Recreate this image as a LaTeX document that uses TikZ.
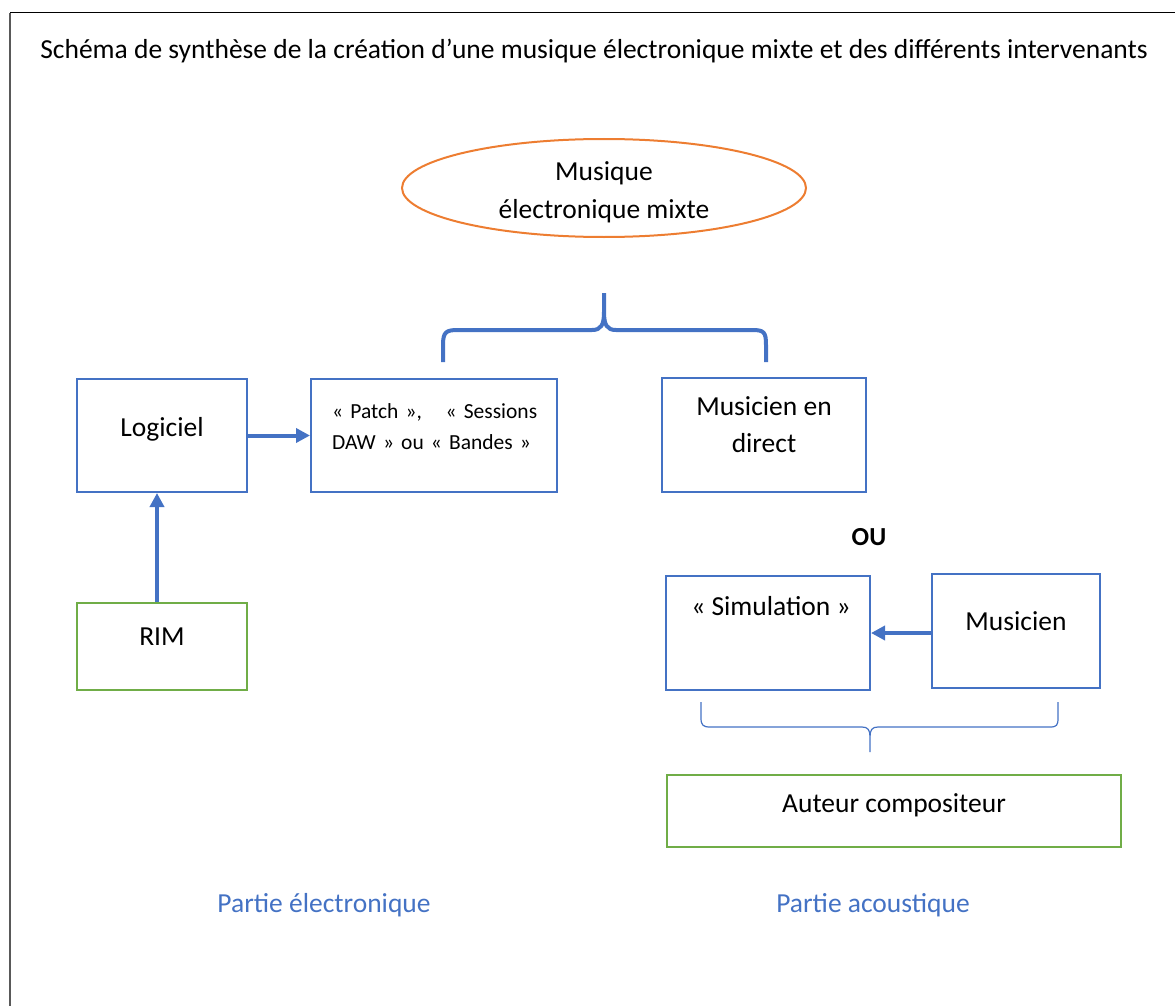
\documentclass[tikz,border=0pt]{standalone}
\usepackage{fontspec}
\setmainfont{Carlito}
\usetikzlibrary{shapes.geometric,arrows.meta}
\definecolor{officeblue}{HTML}{4472C4}
\definecolor{officegreen}{HTML}{70AD47}
\definecolor{officeorange}{HTML}{ED7D31}
\tikzset{
  bluebox/.style={draw=officeblue, line width=2pt, inner sep=0pt},
  greenbox/.style={draw=officegreen, line width=2pt, inner sep=0pt},
  flow/.style={draw=officeblue, line width=4pt, -{Triangle[length=14pt,width=14pt]}},
  bigtext/.style={font=\fontsize{27.5}{37}\selectfont},
  parttext/.style={font=\fontsize{27.5}{30}\selectfont, text=officeblue},
}
\begin{document}
\begin{tikzpicture}[x=1pt,y=-1pt]
  \useasboundingbox (0,0) rectangle (1175,1006);
  \draw[black!65, line width=2.5pt] (10,1010) -- (10,13);
  \draw[black, line width=1pt] (10,13) -- (1180,13);
  \node[font=\fontsize{27.5}{30}\selectfont] (titre) at (594,51)
    {Schéma de synthèse de la création d’une musique électronique mixte et des différents intervenants};
  \node[ellipse, draw=officeorange, line width=2pt, minimum width=404pt, minimum height=98pt,
    inner sep=0pt] (mixte) at (604,188) {};
  \node[align=center, font=\fontsize{27.5}{38}\selectfont] (mixtetext) at (604,192)
    {Musique\\électronique mixte};
  \node[bluebox, minimum width=170pt, minimum height=113pt,
    label={[bigtext, anchor=center, yshift=-51pt]north:Logiciel}] (logiciel) at (162,435.5) {};
  \node[bluebox, minimum width=246pt, minimum height=113pt] (patch) at (434,435.5) {};
  \node[anchor=north west, inner sep=0pt, text width=205pt, align=left,
    font=\fontsize{21.5}{31}\selectfont] (patchtext) at (332,403)
    {« Patch »,\hfill « Sessions\\DAW » ou « Bandes »};
  \node[bluebox, minimum width=204pt, minimum height=114pt,
    label={[bigtext, align=center, anchor=north, yshift=-16pt]north:Musicien en\\direct}] (direct) at (764,435) {};
  \node[greenbox, minimum width=170pt, minimum height=87pt,
    label={[bigtext, anchor=center, yshift=-35pt]north:RIM}] (rim) at (162,646.5) {};
  \node[font=\bfseries\fontsize{26}{28}\selectfont] (ou) at (869,537) {OU};
  \node[bluebox, minimum width=204pt, minimum height=114pt,
    label={[bigtext, anchor=center, yshift=-31pt, xshift=3pt]north:« Simulation »}] (simulation) at (768,633) {};
  \node[bluebox, minimum width=168pt, minimum height=114pt,
    label={[bigtext, anchor=center, yshift=-48pt]north:Musicien}] (musicien) at (1016,631) {};
  \node[greenbox, minimum width=454pt, minimum height=72pt,
    label={[bigtext, anchor=center, yshift=-31pt]north:Auteur compositeur}] (auteur) at (894,811) {};
  \node[parttext] (electro) at (324,905) {Partie électronique};
  \node[parttext] (acoustique) at (873,905) {Partie acoustique};
  \begin{scope}[flow]
    \draw (logiciel.east) -- (patch.west);
    \draw ([xshift=-5pt]rim.north) -- ([xshift=-5pt]logiciel.south);
    \draw (musicien.west |- simulation.east) -- (simulation.east);
  \end{scope}
  \draw[officeblue, line width=4pt]
    (443,362) -- (443,345) .. controls (443,332) and (446,330) .. (458,330)
    -- (592,330) .. controls (601,330) and (604,325) .. (604,312) -- (604,293)
    (604,312) .. controls (604,325) and (607,330) .. (616,330)
    -- (752,330) .. controls (764,330) and (766,332) .. (766,345) -- (766,362);
  \draw[officeblue, line width=1.2pt]
    (701,702) -- (701,718) .. controls (701,725) and (703,727) .. (710,727)
    -- (862,727) .. controls (868,727) and (870,730) .. (870,737) -- (870,752)
    (870,737) .. controls (870,730) and (872,727) .. (878,727)
    -- (1050,727) .. controls (1057,727) and (1058,725) .. (1058,718) -- (1058,702);
\end{tikzpicture}
\end{document}
